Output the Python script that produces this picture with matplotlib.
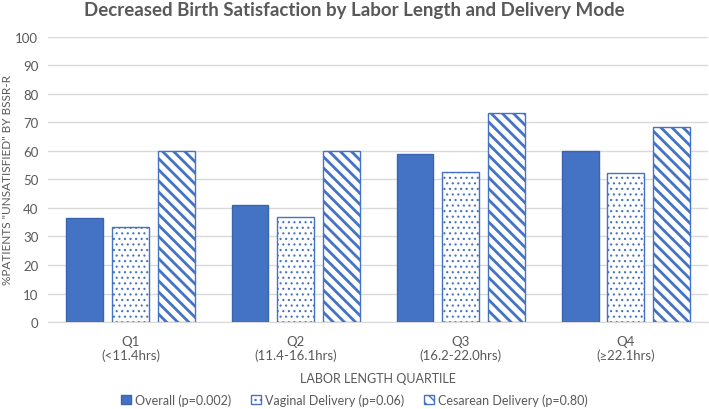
import numpy as np
import matplotlib.pyplot as plt

plt.rcParams['font.family'] = ['Lato', 'DejaVu Sans']

quartiles = ["Q1\n(<11.4hrs)", "Q2\n(11.4-16.1hrs)", "Q3\n(16.2-22.0hrs)", "Q4\n(\u226522.1hrs)"]
overall = [36.5, 41.1, 59.0, 60.0]
vaginal = [33.2, 36.7, 52.5, 52.3]
cesarean = [60.0, 60.0, 73.1, 68.5]
labels = ["Overall (p=0.002)", "Vaginal Delivery (p=0.06)", "Cesarean Delivery (p=0.80)"]

blue = "#4472C4"
grey = "#595959"

fig = plt.figure(figsize=(7.09, 4.10), dpi=100)
ax = fig.add_axes([0.0677, 0.212, 0.931, 0.696])

x = np.arange(len(quartiles))
w = 0.224
off = 0.276
ax.bar(x - off, overall, w, color=blue, edgecolor="#3A64AE", linewidth=1, label=labels[0], zorder=3)
with plt.rc_context({'hatch.linewidth': 0.8}):
    ax.bar(x, vaginal, w, color="white", edgecolor=blue, hatch="...", linewidth=1, label=labels[1], zorder=3)
with plt.rc_context({'hatch.linewidth': 2.0}):
    ax.bar(x + off, cesarean, w, color="white", edgecolor=blue, hatch="\\\\\\", linewidth=1, label=labels[2], zorder=3)

ax.set_xlim(-0.5, 3.5)
ax.set_ylim(0, 100)
ax.set_yticks(range(0, 101, 10))
ax.grid(axis="y", color="#D9D9D9", linewidth=1, zorder=0)
for s in ["top", "right", "left"]:
    ax.spines[s].set_visible(False)
ax.spines["bottom"].set_color("#D9D9D9")
ax.tick_params(axis="y", length=0, colors=grey, labelsize=9.5, pad=7)
ax.tick_params(axis="x", length=0, colors=grey, labelsize=9.5, pad=9)
ax.set_xticks(x)
ax.set_xticklabels(quartiles, color=grey)

ax.set_ylabel('%PATIENTS "UNSATISFIED" BY BSSR-R', color=grey, fontsize=8.5)
ax.yaxis.set_label_coords(-0.053, 0.5)
ax.set_xlabel("LABOR LENGTH QUARTILE", color=grey, fontsize=9, labelpad=8)
fig.suptitle("Decreased Birth Satisfaction by Labor Length and Delivery Mode",
             color=grey, fontsize=13.5, fontweight="bold", x=0.5, y=0.995, va="top")

fig.legend(loc="lower center", bbox_to_anchor=(0.5, -0.02), ncol=3, frameon=False,
           fontsize=9, labelcolor=grey, handlelength=0.8, handleheight=0.8,
           columnspacing=1.6, handletextpad=0.3)

fig.savefig("out.png", dpi=100)
